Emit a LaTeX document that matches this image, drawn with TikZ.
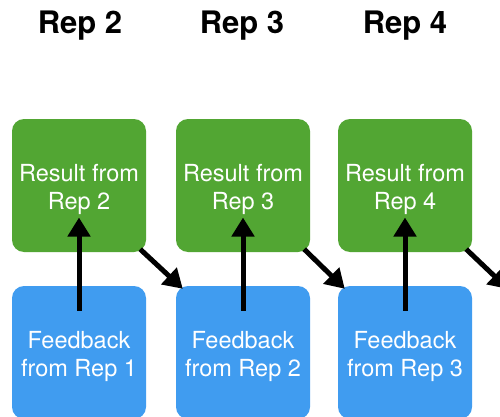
\documentclass[tikz,border=0pt]{standalone}
\usepackage{fontspec}
\setmainfont{TeX Gyre Heros}
\usetikzlibrary{arrows.meta,calc}
\definecolor{resultgreen}{RGB}{82,166,51}
\definecolor{feedblue}{RGB}{64,156,240}
\tikzset{
  boxtext/.style={align=center, text=white, inner sep=0pt, yshift=-3.5pt,
    font=\fontsize{23.5}{28}\selectfont},
  box/.style={rounded corners=12pt, minimum width=134pt, minimum height=133pt,
    inner sep=0pt, label={[boxtext]center:#1}},
  resultbox/.style={box=#1, fill=resultgreen},
  feedbox/.style={box=#1, fill=feedblue},
  title/.style={font=\fontsize{31}{34}\bfseries\selectfont, text=black},
  flow/.style={line width=5pt, -{Triangle[length=19pt,width=22pt]}},
}
\begin{document}
\begin{tikzpicture}[x=1pt,y=-1pt]
  \useasboundingbox (0,0) rectangle (500,417);
  \clip (0,0) rectangle (500,417);
  \fill[white] (0,0) rectangle (500,417);

  % column headings
  \node[title] (t2) at (80,25.5) {Rep 2};
  \node[title] (t3) at (242,25.5) {Rep 3};
  \node[title] (t4) at (405,25.5) {Rep 4};

  % results (top row) and feedback (bottom row)
  \node[resultbox={Result from\\Rep 2}] (g1) at (79,185.5) {};
  \node[resultbox={Result from\\Rep 3}] (g2) at (243,185.5) {};
  \node[resultbox={Result from\\Rep 4}] (g3) at (405,185.5) {};
  \node[feedbox={Feedback\\from Rep 1}] (b1) at (79,352.5) {};
  \node[feedbox={Feedback\\from Rep 2}] (b2) at (243,352.5) {};
  \node[feedbox={Feedback\\from Rep 3}] (b3) at (405,352.5) {};

  % the next feedback box lies beyond the right edge
  \coordinate (b4nw) at (501,286);

  % feedback feeds the result of the same rep
  \foreach \i in {1,2,3}{
    \draw[flow] ($(b\i.center)+(0,-42)$) -- ($(g\i.center)+(0,32)$);
  }

  % each result feeds the next rep's feedback
  \draw[flow] ($(g1.south east)+(-6,-3)$) -- ($(b2.north west)+(7,3)$);
  \draw[flow] ($(g2.south east)+(-6,-3)$) -- ($(b3.north west)+(7,3)$);
  \draw[flow] ($(g3.south east)+(-6,-3)$) -- ($(b4nw)+(7,3)$);
\end{tikzpicture}
\end{document}
